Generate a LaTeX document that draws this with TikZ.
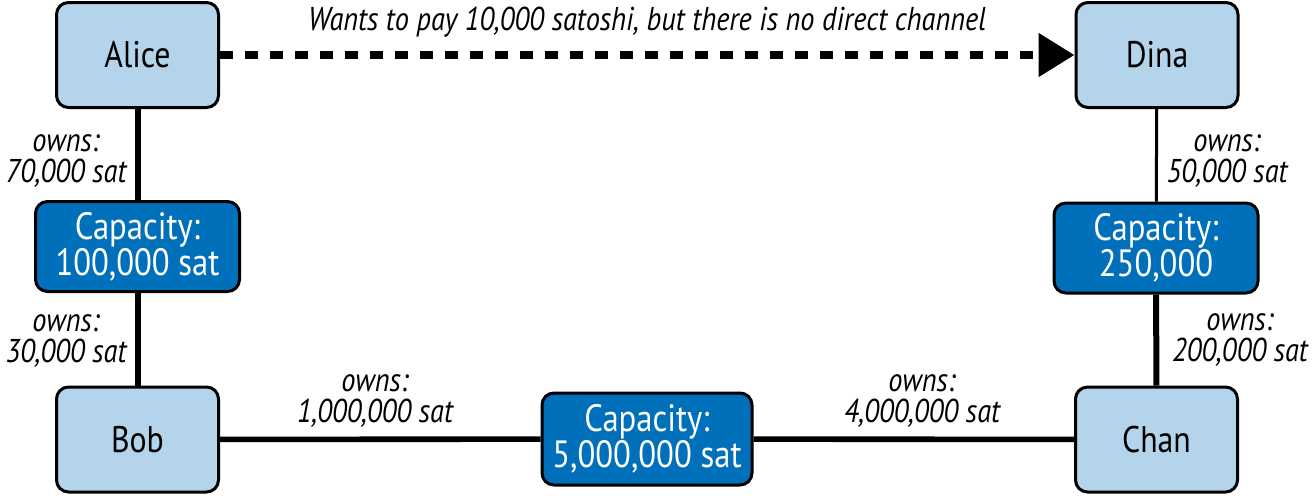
\documentclass[tikz,border=0pt]{standalone}
\usepackage{fontspec}
\setmainfont{PT Sans}[FakeStretch=0.86]
\usetikzlibrary{arrows.meta}
\definecolor{lightbox}{RGB}{179,212,234}
\definecolor{capblue}{RGB}{0,112,187}
\tikzset{
  party/.style={draw=black, line width=1.5pt, rounded corners=6pt, fill=lightbox,
    minimum width=81pt, minimum height=52.5pt, inner sep=0pt,
    font=\fontsize{18.5pt}{18pt}\selectfont},
  capbox/.style={draw=black, line width=1.5pt, rounded corners=6pt, fill=capblue,
    text=white, minimum width=102pt, minimum height=45pt, inner sep=0pt, align=center,
    font=\fontsize{19pt}{18pt}\selectfont},
  owns/.style={align=center, inner sep=0pt, font=\itshape\fontsize{16.5pt}{15.5pt}\selectfont},
  thickline/.style={line width=3pt},
  thinline/.style={line width=1.5pt},
  midline/.style={line width=2.8pt},
}
\begin{document}
\begin{tikzpicture}[x=0.5pt, y=-0.5pt]
\useasboundingbox (0,0) rectangle (1315,495);
\node[party] (alice) at (137.5,55) {Alice};
\node[party] (dina) at (1157,55) {Dina};
\node[party] (bob) at (137.5,439.5) {Bob};
\node[party] (chan) at (1156.5,439.5) {Chan};
\node[capbox] (capL) at (137.5,246.5) {Capacity:\\100,000 sat};
\node[capbox] (capR) at (1156,248) {Capacity:\\250,000};
\node[capbox, minimum width=105pt, minimum height=46pt] (capB) at (647,439) {Capacity:\\5,000,000 sat};

\draw[line width=4pt, dash pattern=on 6.5pt off 6pt, -{Triangle[length=18pt,width=21pt]}] (alice.east) -- (dina.west);
\node[font=\itshape\fontsize{16.5pt}{15.5pt}\selectfont, anchor=base, inner sep=0pt] (msg) at (647,30) {Wants to pay 10,000 satoshi, but there is no direct channel};

\draw[thickline] (alice) -- (capL);
\draw[thickline] (capL) -- (bob);
\draw[thinline] (dina) -- (capR);
\draw[thickline] (capR) -- (chan);
\draw[midline] (bob) -- (capB);
\draw[midline] (capB) -- (chan);

\node[owns] (o1) at (66,161) {owns:\\70,000 sat};
\node[owns] (o2) at (66,341) {owns:\\30,000 sat};
\node[owns] (o3) at (1227,160.5) {owns:\\50,000 sat};
\node[owns] (o4) at (1240,340) {owns:\\200,000 sat};
\node[owns] (o5) at (375,401) {owns:\\1,000,000 sat};
\node[owns] (o6) at (922,401) {owns:\\4,000,000 sat};
\end{tikzpicture}
\end{document}
